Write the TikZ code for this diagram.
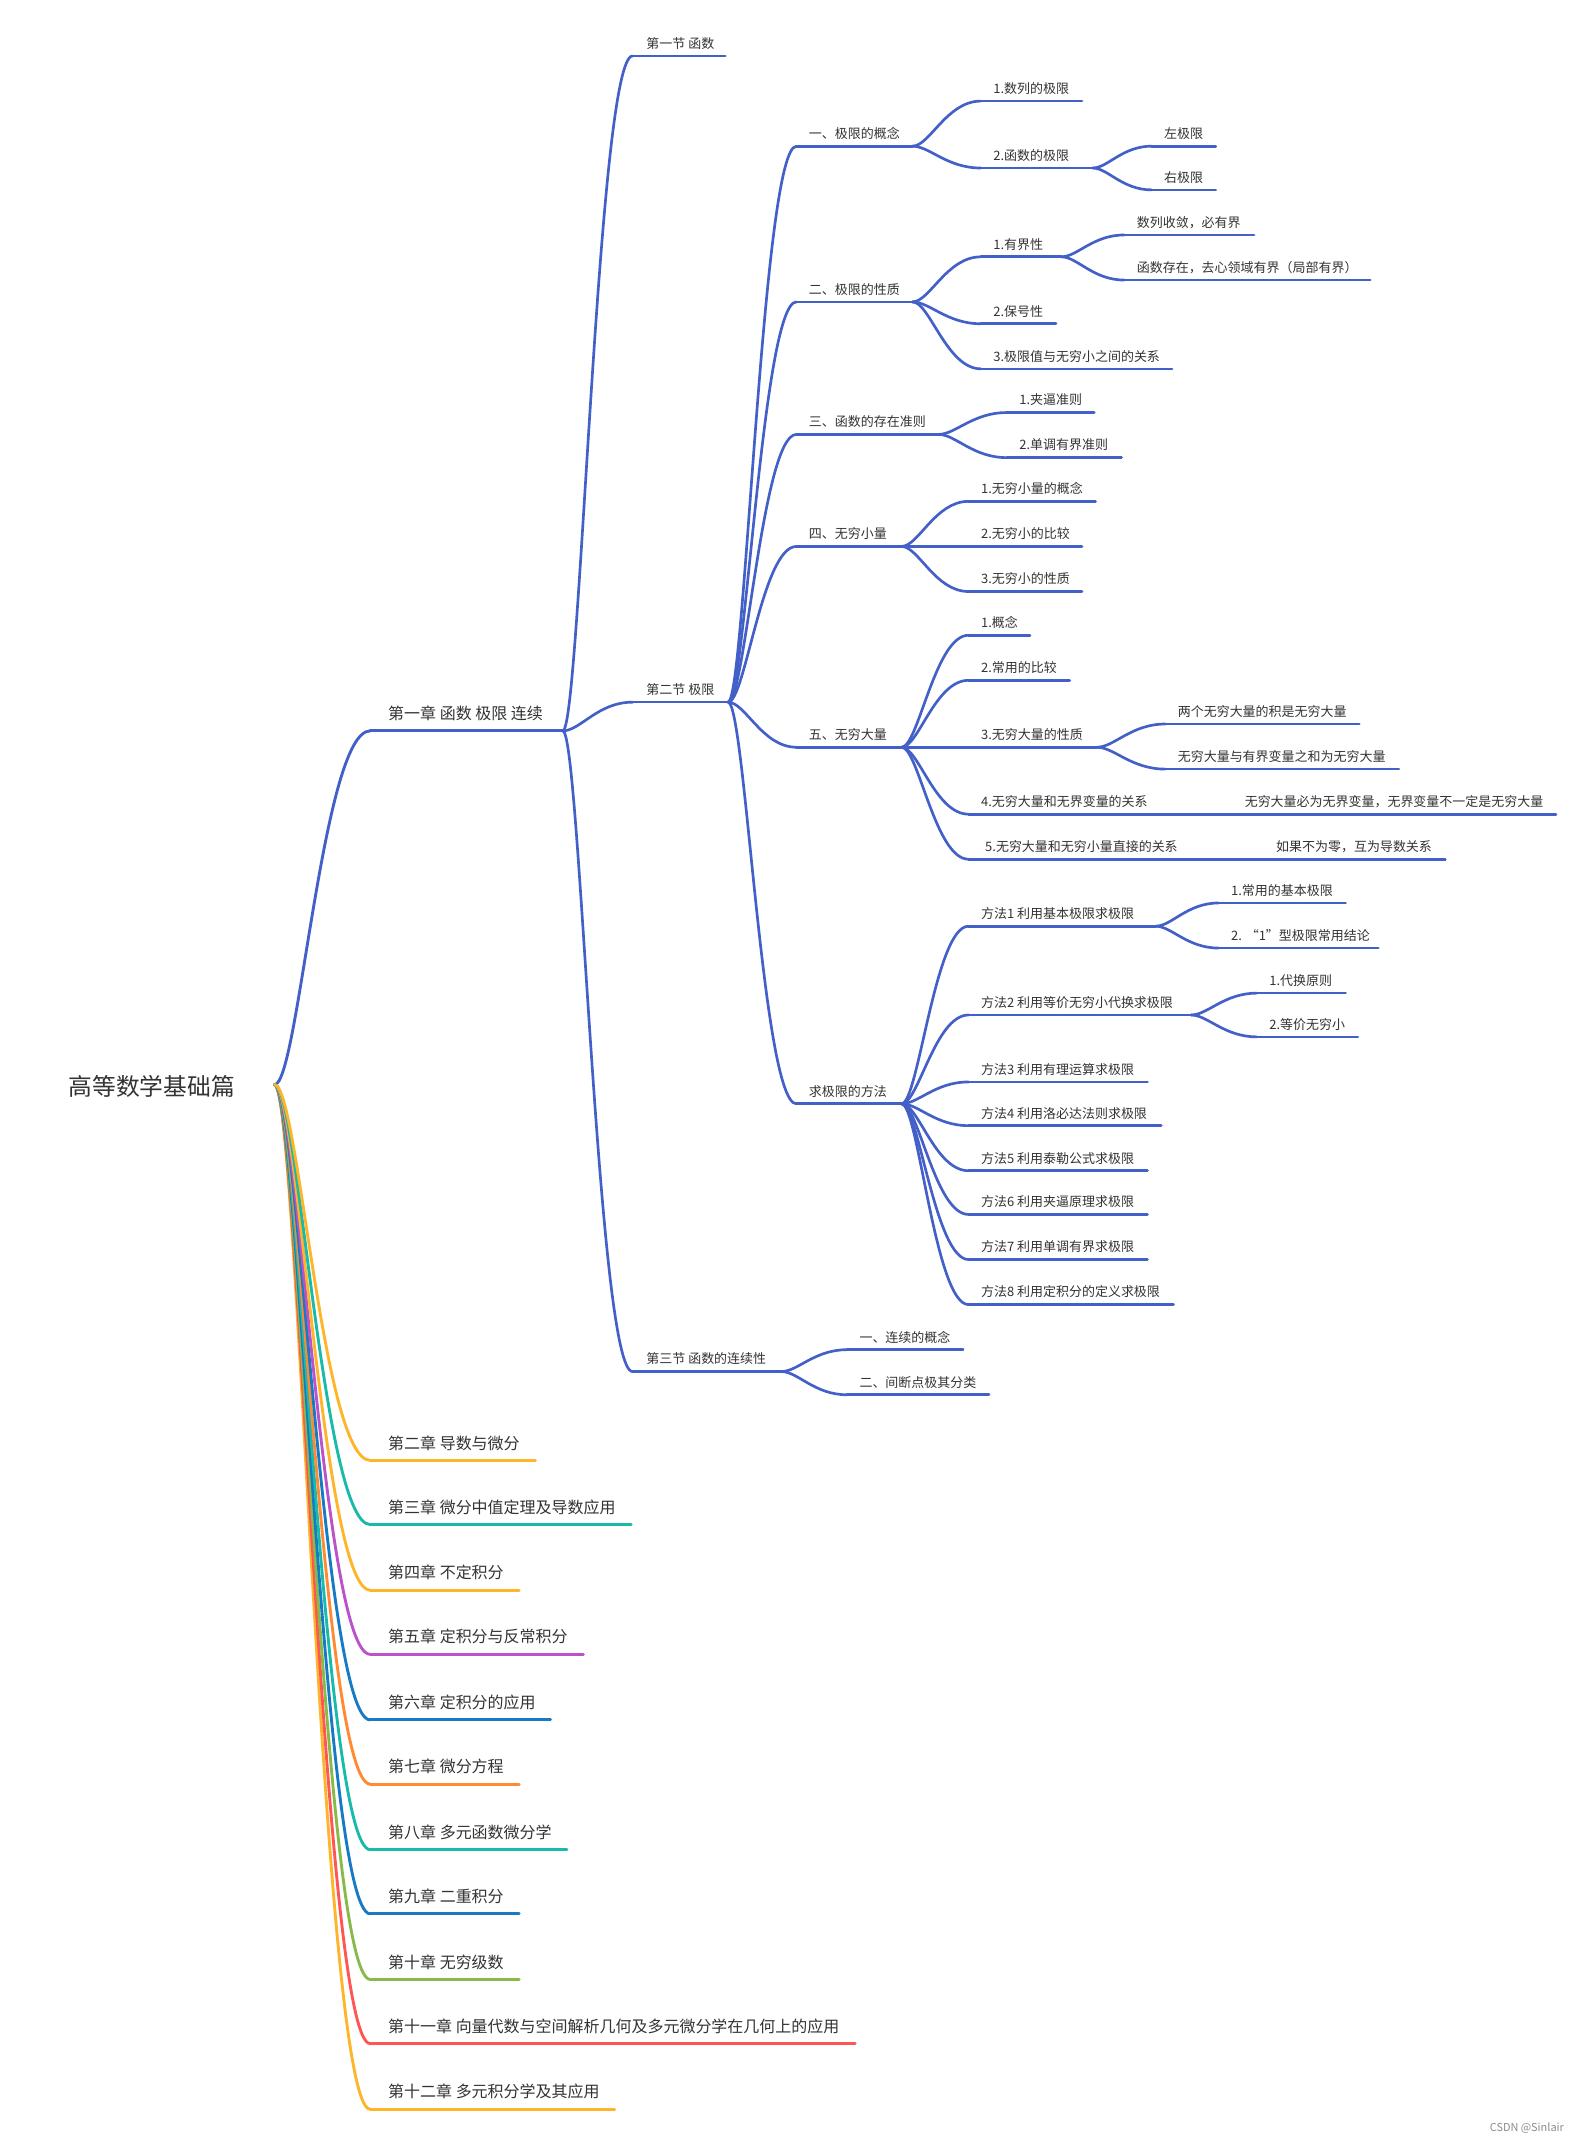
\documentclass[tikz,border=0pt]{standalone}
\usepackage{fontspec}
\setmainfont{Noto Sans CJK SC}
\usetikzlibrary{calc}
\definecolor{bl}{RGB}{66,96,200}
\definecolor{cy}{RGB}{255,181,41}
\definecolor{ct}{RGB}{24,186,170}
\definecolor{cp}{RGB}{187,82,201}
\definecolor{cb}{RGB}{22,122,196}
\definecolor{co}{RGB}{255,138,51}
\definecolor{cg}{RGB}{135,186,72}
\definecolor{cr}{RGB}{255,85,85}
\definecolor{tx}{RGB}{51,51,51}
\tikzset{
  ln/.style={line width=1.95pt},
  chln/.style={line width=2.1pt},
  txt/.style={anchor=base west, inner sep=0pt, text=tx, font=\fontsize{9.5}{11}\selectfont},
  chtxt/.style={anchor=base west, inner sep=0pt, text=tx, font=\fontsize{11.7}{14}\selectfont},
}
\newcommand\tp[7][bl]{%
  \coordinate (#2-l) at (#3,#6);
  \coordinate (#2-r) at (#5,#6);
  \draw[ln,#1] (#2-l) -- (#2-r);
  \node[txt] (#2) at (#4,#6-5.6) {#7};}
\newcommand\chp[5]{%
  \coordinate (#2-l) at (271,#4);
  \coordinate (#2-r) at (#3,#4);
  \draw[chln,#1] (#2-l) -- (#2-r);
  \node[chtxt] (#2) at (284,#4-8.3) {#5};}
\newcommand\cn[3][bl]{%
  \draw[ln,#1] let \p1=(#2), \p2=(#3) in (\p1) .. controls ({\x1+0.25*(\x2-\x1)},\y1) and ({\x1+0.5*(\x2-\x1)},\y2) .. (\p2);}
\begin{document}
\begin{tikzpicture}[x=1pt,y=-1pt,line cap=round]
\fill[white] (0,0) rectangle (1156,1568);
\useasboundingbox (0,0) rectangle (1156,1568);

% root
\node[anchor=base west, inner sep=0pt, text=tx, font=\fontsize{17.4}{20}\selectfont] (root) at (50,801.6) {高等数学基础篇};
\coordinate (root-r) at (201,794);

% chapters
\chp{bl}{c1}{412}{535}{第一章 函数 极限 连续}
\chp{cy}{c2}{392}{1069}{第二章 导数与微分}
\chp{ct}{c3}{462}{1116}{第三章 微分中值定理及导数应用}
\chp{cy}{c4}{380}{1164}{第四章 不定积分}
\chp{cp}{c5}{427}{1211}{第五章 定积分与反常积分}
\chp{cb}{c6}{403}{1259}{第六章 定积分的应用}
\chp{co}{c7}{380}{1306}{第七章 微分方程}
\chp{ct}{c8}{415}{1354}{第八章 多元函数微分学}
\chp{cb}{c9}{380}{1401}{第九章 二重积分}
\chp{cg}{c10}{380}{1449}{第十章 无穷级数}
\chp{cr}{c11}{626}{1496}{第十一章 向量代数与空间解析几何及多元微分学在几何上的应用}
\chp{cy}{c12}{450}{1544}{第十二章 多元积分学及其应用}

\cn[chln,bl]{root-r}{c1-l}
\cn[chln,cy]{root-r}{c12-l}
\cn[chln,cr]{root-r}{c11-l}
\cn[chln,cg]{root-r}{c10-l}
\cn[chln,cb]{root-r}{c9-l}
\cn[chln,ct]{root-r}{c8-l}
\cn[chln,co]{root-r}{c7-l}
\cn[chln,cb]{root-r}{c6-l}
\cn[chln,cp]{root-r}{c5-l}
\cn[chln,cy]{root-r}{c4-l}
\cn[chln,ct]{root-r}{c3-l}
\cn[chln,cy]{root-r}{c2-l}

% sections
\tp{s1}{463}{473}{531}{41}{第一节 函数}
\tp{s2}{463}{473}{533}{514}{第二节 极限}
\tp{s3}{463}{473}{572}{1004}{第三节 函数的连续性}
\cn{c1-r}{s1-l}
\cn{c1-r}{s2-l}
\cn{c1-r}{s3-l}

% level 3
\tp{a1}{583}{592}{668}{107}{一、极限的概念}
\tp{a2}{583}{592}{668}{221}{二、极限的性质}
\tp{a3}{583}{592}{687}{318}{三、函数的存在准则}
\tp{a4}{583}{592}{660}{400}{四、无穷小量}
\tp{a5}{583}{592}{660}{547}{五、无穷大量}
\tp{a6}{583}{592}{660}{808}{求极限的方法}
\tp{b1}{620}{629}{705}{988}{一、连续的概念}
\tp{b2}{620}{629}{724}{1021}{二、间断点极其分类}
\foreach \k in {a1,a2,a3,a4,a5,a6} {\cn{s2-r}{\k-l}}
\cn{s3-r}{b1-l}
\cn{s3-r}{b2-l}

% under a1
\tp{d1}{718}{727}{792}{74}{1.数列的极限}
\tp{d2}{718}{727}{800}{123}{2.函数的极限}
\tp{e1}{843}{852}{890}{107}{左极限}
\tp{e2}{843}{852}{890}{139}{右极限}
\cn{a1-r}{d1-l}
\cn{a1-r}{d2-l}
\cn{d2-r}{e1-l}
\cn{d2-r}{e2-l}

% under a2
\tp{d3}{718}{727}{777}{188}{1.有界性}
\tp{e3}{823}{832}{918}{172}{数列收敛，必有界}
\tp{e4}{823}{832}{1003}{205}{函数存在，去心领域有界（局部有界）}
\tp{d4}{718}{727}{773}{237}{2.保号性}
\tp{d5}{718}{727}{858}{270}{3.极限值与无穷小之间的关系}
\cn{a2-r}{d3-l}
\cn{a2-r}{d4-l}
\cn{a2-r}{d5-l}
\cn{d3-r}{e3-l}
\cn{d3-r}{e4-l}

% under a3
\tp{f1}{737}{746}{801}{302}{1.夹逼准则}
\tp{f2}{737}{746}{821}{335}{2.单调有界准则}
\cn{a3-r}{f1-l}
\cn{a3-r}{f2-l}

% under a4
\tp{g1}{709}{718}{802}{367}{1.无穷小量的概念}
\tp{g2}{709}{718}{792}{400}{2.无穷小的比较}
\tp{g3}{709}{718}{792}{433}{3.无穷小的性质}
\cn{a4-r}{g1-l}
\cn{a4-r}{g2-l}
\cn{a4-r}{g3-l}

% under a5
\tp{h1}{709}{718}{754}{465}{1.概念}
\tp{h2}{709}{718}{783}{498}{2.常用的比较}
\tp{h3}{709}{718}{803}{547}{3.无穷大量的性质}
\tp{i1}{853}{862}{995}{530}{两个无穷大量的积是无穷大量}
\tp{i2}{853}{862}{1024}{563}{无穷大量与有界变量之和为无穷大量}
\tp{h4}{709}{718}{851}{596}{4.无穷大量和无界变量的关系}
\tp{i3}{857}{911}{1139}{596}{无穷大量必为无界变量，无界变量不一定是无穷大量}
\tp{h5}{709}{721}{872}{629}{5.无穷大量和无穷小量直接的关系}
\tp{i4}{878}{934}{1058}{629}{如果不为零，互为导数关系}
\foreach \k in {h1,h2,h3,h4,h5} {\cn{a5-r}{\k-l}}
\cn{h3-r}{i1-l}
\cn{h3-r}{i2-l}
\draw[ln,bl] (h4-r) -- (i3-l);
\draw[ln,bl] (h5-r) -- (i4-l);

% under a6
\tp{m1}{709}{718}{846}{678}{方法1 利用基本极限求极限}
\tp{n1}{892}{901}{985}{661}{1.常用的基本极限}
\tp{n2}{892}{901}{1009}{694}{2. “1”型极限常用结论}
\tp{m2}{709}{718}{872}{743}{方法2 利用等价无穷小代换求极限}
\tp{n3}{920}{929}{985}{727}{1.代换原则}
\tp{n4}{920}{929}{994}{759}{2.等价无穷小}
\tp{m3}{709}{718}{840}{792}{方法3 利用有理运算求极限}
\tp{m4}{709}{718}{850}{824}{方法4 利用洛必达法则求极限}
\tp{m5}{709}{718}{840}{857}{方法5 利用泰勒公式求极限}
\tp{m6}{709}{718}{840}{889}{方法6 利用夹逼原理求极限}
\tp{m7}{709}{718}{840}{922}{方法7 利用单调有界求极限}
\tp{m8}{709}{718}{859}{955}{方法8 利用定积分的定义求极限}
\foreach \k in {m1,m2,m3,m4,m5,m6,m7,m8} {\cn{a6-r}{\k-l}}
\cn{m1-r}{n1-l}
\cn{m1-r}{n2-l}
\cn{m2-r}{n3-l}
\cn{m2-r}{n4-l}

% watermark
\node[anchor=base east, inner sep=0pt, text=black!45, font=\fontsize{8}{9}\selectfont] (wm) at (1145,1560) {CSDN @Sinlair};
\end{tikzpicture}
\end{document}
